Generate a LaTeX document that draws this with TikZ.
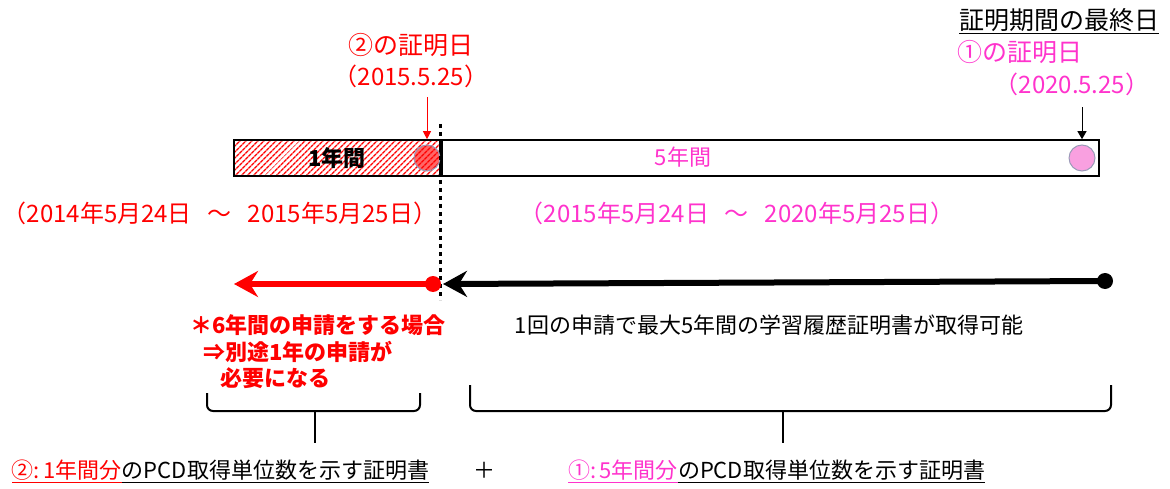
\documentclass[tikz,border=0pt]{standalone}
\usepackage{fontspec}
\setmainfont{Noto Sans CJK JP}
\usetikzlibrary{arrows.meta,patterns.meta,calc}
\definecolor{redColor}{HTML}{FF0000}
\definecolor{pinkColor}{HTML}{FF33CC}
\definecolor{dotColor}{HTML}{F9A0E0}
\definecolor{rimColor}{HTML}{9A9AB8}
\newcommand{\bigfont}{\fontsize{25}{30}\selectfont}
\newcommand{\datefont}{\fontsize{24}{28}\selectfont}
\tikzset{
	txt/.style={inner sep=0,outer sep=0,font=\fontsize{22}{26}\selectfont},
	redtxt/.style={txt,text=redColor},
	pinktxt/.style={txt,text=pinkColor},
	notetxt/.style={txt,text=redColor,font=\fontsize{22}{26}\selectfont\bfseries,anchor=west},
	barbox/.style={draw,line width=2pt,inner sep=0,minimum height=36pt},
	dotmark/.style={circle,draw=rimColor,line width=1pt,minimum size=26pt,inner sep=0},
	thick arrow/.style={line width=6pt,-{Stealth[length=24pt,width=26pt,inset=8pt]}},
	brace/.style={line width=2pt,rounded corners=6pt},
	uline/.style={line width=1pt}
}
\begin{document}
\begin{tikzpicture}[x=1pt,y=-1pt]
	\useasboundingbox (0,0) rectangle (1170,489);
	% headings above the bar
	\node[txt,font=\bigfont] (lastday) at (1059,20) {証明期間の最終日};
	\draw[uline] ($(lastday.south west)+(0,2)$) -- ($(lastday.south east)+(0,2)$);
	\node[pinktxt,font=\bigfont] (proofone) at (1020,52) {①の証明日};
	\node[pinktxt,font=\datefont] (dateone) at (1072,84) {（2020.5.25）};
	\node[redtxt,font=\bigfont] (prooftwo) at (411,45) {②の証明日};
	\node[redtxt,font=\datefont] (datetwo) at (411,76) {（2015.5.25）};
	% the bar
	\node[barbox,minimum width=206pt,pattern={Lines[angle=45,distance=4pt,line width=1.6pt]},pattern color=redColor,font=\fontsize{22}{26}\selectfont\bfseries] (barone) at (337,158) {1年間};
	\node[barbox,minimum width=657pt,anchor=west] (barfive) at (barone.east) {};
	\node[pinktxt] (fiveyears) at (683,157) {5年間};
	\node[dotmark,fill=redColor,fill opacity=0.6] (dottwo) at (427,158) {};
	\node[dotmark,fill=dotColor] (dotone) at (1082,158) {};
	\draw[redColor,line width=1pt,-{Triangle[length=8pt,width=8pt]},shorten <=10pt] (dottwo |- datetwo.south) -- (dottwo |- barone.north);
	\draw[line width=1pt,-{Triangle[length=8pt,width=9pt]},shorten <=12pt] (dotone |- dateone.south) -- (dotone |- barone.north);
	% boundary
	\coordinate (cuttop) at (440,124);
	\coordinate (cutbot) at (440,300);
	\draw[line width=3pt,dash pattern=on 4pt off 4pt] (cuttop) -- (cutbot);
	% periods
	\node[redtxt,font=\datefont] (spantwo) at (220,213) {（2014年5月24日\hspace{16pt}～\hspace{16pt}2015年5月25日）};
	\node[pinktxt,font=\datefont] (spanone) at (737,213) {（2015年5月24日\hspace{16pt}～\hspace{16pt}2020年5月25日）};
	% application arrows
	\node[circle,fill=redColor,minimum size=16pt,inner sep=0] (starttwo) at (433,284) {};
	\coordinate (endtwo) at (234,284);
	\node[circle,fill=black,minimum size=16pt,inner sep=0] (startone) at (1105,281) {};
	\coordinate (endone) at (443,284);
	\draw[thick arrow,redColor] (starttwo.center) -- (endtwo);
	\draw[thick arrow] (startone.center) -- (endone);
	% notes
	\node[notetxt] (noteA) at (190,325) {＊6年間の申請をする場合};
	\node[notetxt] (noteB) at (203,352) {⇒別途1年の申請が};
	\node[notetxt] (noteC) at (220,378) {必要になる};
	\node[txt] (noteone) at (769,325) {1回の申請で最大5年間の学習履歴証明書が取得可能};
	% braces
	\draw[brace] (207,393) -- (207,411) -- (315,411);
	\draw[brace] (420,393) -- (420,411) -- (315,411);
	\draw[line width=2pt] (315,411) -- (315,443);
	\draw[brace] (470,385) -- (470,411) -- (783,411);
	\draw[brace] (1111,385) -- (1111,411) -- (783,411);
	\draw[line width=2pt] (783,411) -- (783,443);
	% bottom line
	\node[redtxt,anchor=west] (certtwoA) at (12,470) {②:\,1年間分};
	\node[txt,anchor=west] (certtwoB) at (certtwoA.east) {のPCD取得単位数を示す証明書};
	\draw[uline,redColor] ($(certtwoA.south west)+(0,2)$) -- ($(certtwoA.south east)+(0,2)$);
	\draw[uline] ($(certtwoB.south west)+(0,2)$) -- ($(certtwoB.south east)+(0,2)$);
	\node[txt] (plus) at (484,470) {＋};
	\node[pinktxt,anchor=west] (certoneA) at (568,470) {①:\,5年間分};
	\node[txt,anchor=west] (certoneB) at (certoneA.east) {のPCD取得単位数を示す証明書};
	\draw[uline,pinkColor] ($(certoneA.south west)+(0,2)$) -- ($(certoneA.south east)+(0,2)$);
	\draw[uline] ($(certoneB.south west)+(0,2)$) -- ($(certoneB.south east)+(0,2)$);
\end{tikzpicture}
\end{document}
